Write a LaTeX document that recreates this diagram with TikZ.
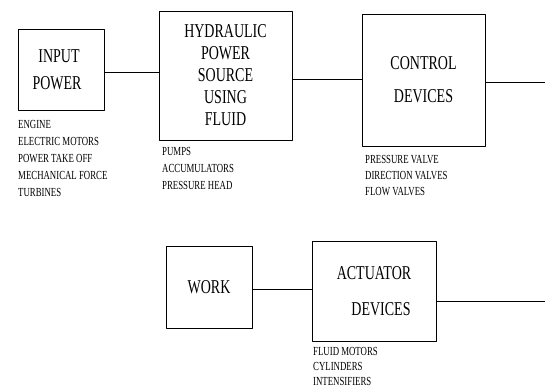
\documentclass[tikz,border=0pt]{standalone}
\usepackage{fontspec}
\setmainfont{Liberation Serif}
\usepackage{graphicx}
\newcommand{\tallline}[1]{\scalebox{1}[1.4]{#1}}

\begin{document}
\begin{tikzpicture}[x=1pt,y=-1pt,line cap=round,line join=round,
  blockbox/.style={draw,line width=.9pt,inner sep=0pt,align=center},
  partlist/.style={anchor=north west,inner sep=0pt,align=left,font=\fontsize{8.8}{17}\selectfont}]
  \useasboundingbox (0,0) rectangle (545,391);
  % upper chain
  \node[blockbox,minimum width=86pt,minimum height=81pt,font=\fontsize{14}{27}\selectfont] (input) at (61,69.5) {\tallline{INPUT}\hspace*{4pt}\\\tallline{POWER}\hspace*{8pt}};
  \node[blockbox,minimum width=133pt,minimum height=129pt,font=\fontsize{14}{22}\selectfont] (hyd) at (225.5,75.5) {\tallline{HYDRAULIC}\\\tallline{POWER}\\\tallline{SOURCE}\\\tallline{USING}\\\tallline{FLUID}};
  \node[blockbox,minimum width=123pt,minimum height=132pt,font=\fontsize{14}{33}\selectfont] (ctrl) at (423.5,80) {\tallline{CONTROL}\\\tallline{DEVICES}};
  % lower chain
  \node[blockbox,minimum width=86pt,minimum height=82pt,font=\fontsize{14}{27}\selectfont] (work) at (209,287) {\tallline{WORK}};
  \node[blockbox,minimum width=124pt,minimum height=100pt,font=\fontsize{14}{36}\selectfont] (act) at (374,291) {\tallline{ACTUATOR}\\\hspace*{14pt}\tallline{DEVICES}};
  \coordinate (endA) at (545,82); \coordinate (endB) at (545,301);
  \draw[line width=.9pt] ([yshift=-2.5pt]input.east) -- ([yshift=-2.5pt]input.east -| hyd.west);
  \draw[line width=.9pt] ([yshift=-3.5pt]hyd.east) -- ([yshift=-3.5pt]hyd.east -| ctrl.west);
  \draw[line width=.9pt] (endA -| ctrl.east) -- (endA);
  \draw[line width=.9pt] ([yshift=-2pt]work.east) -- ([yshift=-2pt]work.east -| act.west);
  \draw[line width=.9pt] (endB -| act.east) -- (endB);
  % component lists
  \node[partlist] (inputlist) at (18,120) {\tallline{ENGINE}\\\tallline{ELECTRIC MOTORS}\\\tallline{POWER TAKE OFF}\\\tallline{MECHANICAL FORCE}\\\tallline{TURBINES}};
  \node[partlist] (hydlist) at (162,147) {\tallline{PUMPS}\\\tallline{ACCUMULATORS}\\\tallline{PRESSURE HEAD}};
  \node[partlist,font=\fontsize{8.8}{16}\selectfont] (ctrllist) at (365,155) {\tallline{PRESSURE VALVE}\\\tallline{DIRECTION VALVES}\\\tallline{FLOW VALVES}};
  \node[partlist,font=\fontsize{8.8}{15}\selectfont] (actlist) at (313,347) {\tallline{FLUID MOTORS}\\\tallline{CYLINDERS}\\\tallline{INTENSIFIERS}};
\end{tikzpicture}
\end{document}
